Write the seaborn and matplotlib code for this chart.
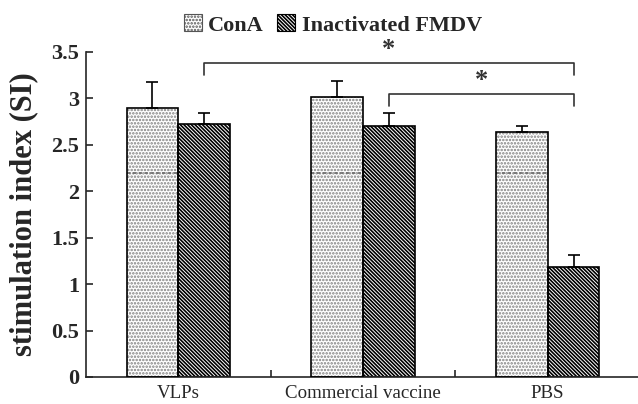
import matplotlib
matplotlib.use('Agg')
import matplotlib.pyplot as plt
import seaborn as sns
import pandas as pd
from matplotlib.patches import Patch
from matplotlib.ticker import FuncFormatter, FixedLocator

# Dữ liệu
groups = ['VLPs', 'Commercial vaccine', 'PBS']
treatments = ['ConA', 'Inactivated FMDV']
cona_mean = [2.89, 3.01, 2.63]
cona_err = [0.28, 0.17, 0.07]
fmdv_mean = [2.72, 2.70, 1.18]
fmdv_err = [0.12, 0.14, 0.13]
cona_dash = 2.19
# (nhóm trái, nhóm phải, độ cao ngang, nhãn)
brackets = [(0, 2, 3.38, '*'), (1, 2, 3.04, '*')]

DOTS = '.....'
STRIPES = '\\' * 9

sns.set_style('ticks')
plt.rcParams['font.family'] = ['Liberation Serif', 'DejaVu Serif']
plt.rcParams['hatch.linewidth'] = 1.2

df = pd.DataFrame({
    'group': groups * 2,
    'treatment': [treatments[0]] * 3 + [treatments[1]] * 3,
    'si': cona_mean + fmdv_mean,
})

fig = plt.figure(figsize=(6.38, 4.04), dpi=100)
ax = fig.add_axes([86 / 638, 1 - 377 / 404, 554 / 638, 325.5 / 404])

sns.barplot(data=df, x='group', y='si', hue='treatment', order=groups,
            hue_order=treatments, width=0.56, palette=['white', 'white'],
            edgecolor='black', linewidth=1.2, legend=False, ax=ax)

cona_bars = ax.containers[0]
fmdv_bars = ax.containers[1]

cona_x = []
for bar in cona_bars:
    bar.set_hatch(DOTS)
    bar.set_edgecolor('#808080')
    bar.set_linewidth(0)
    cona_x.append(bar.get_x() + bar.get_width() / 2)
    ax.plot([bar.get_x(), bar.get_x() + bar.get_width()], [cona_dash, cona_dash],
            color='#6a6a6a', linestyle=(0, (2, 1.5)), linewidth=1.2, zorder=3)
ax.bar(cona_x, cona_mean, width=cona_bars[0].get_width(), fill=False,
       edgecolor='black', linewidth=1.2, zorder=3)

fmdv_x = []
for bar in fmdv_bars:
    bar.set_hatch(STRIPES)
    fmdv_x.append(bar.get_x() + bar.get_width() / 2)

ax.errorbar(cona_x, cona_mean, yerr=[[0] * 3, cona_err], fmt='none',
            ecolor='black', elinewidth=1.2, capsize=4, capthick=1.2, zorder=4)
ax.errorbar(fmdv_x, fmdv_mean, yerr=[[0] * 3, fmdv_err], fmt='none',
            ecolor='black', elinewidth=1.2, capsize=4, capthick=1.2, zorder=4)

# Các dấu ngoặc so sánh có ý nghĩa
for a, b, y, label in brackets:
    xa, xb = fmdv_x[a], fmdv_x[b]
    ax.plot([xa, xa, xb, xb], [y - 0.13, y, y, y - 0.13],
            color='#333333', linewidth=1.2, clip_on=False)
    ax.text((xa + xb) / 2, y + 0.02, label, ha='center', va='bottom',
            fontsize=19, fontweight='bold', color='#333333')

ax.set_xlim(-0.5, 2.5)
ax.set_ylim(0, 3.5)
ax.set_yticks([0, 0.5, 1, 1.5, 2, 2.5, 3, 3.5])
ax.yaxis.set_major_formatter(FuncFormatter(lambda v, p: f'{v:g}'))
ax.tick_params(axis='y', direction='in', length=5, width=1.2,
               labelsize=16, pad=5)
for lbl in ax.get_yticklabels():
    lbl.set_fontweight('bold')
ax.tick_params(axis='x', which='major', length=0, labelsize=13.6, pad=6)
ax.xaxis.set_minor_locator(FixedLocator([0.5, 1.5]))
ax.tick_params(axis='x', which='minor', direction='in', length=5, width=1.2)

ax.set_xlabel('')
ax.set_ylabel('stimulation index (SI)', fontsize=22, fontweight='bold')
ax.yaxis.set_label_coords(-0.086, 0.5)
sns.despine(ax=ax)
for side in ['left', 'bottom']:
    ax.spines[side].set_linewidth(1.2)

handles = [
    Patch(facecolor='white', edgecolor='#555555', hatch=DOTS, linewidth=0.8),
    Patch(facecolor='white', edgecolor='black', hatch=STRIPES, linewidth=0.8),
]
fig.legend(handles, treatments, loc='center', bbox_to_anchor=(333 / 638, 1 - 25 / 404),
           ncol=2, frameon=False, prop={'weight': 'bold', 'size': 16},
           handlelength=0.8, handleheight=0.8, handletextpad=0.3, columnspacing=0.6)

fig.savefig('out.png', dpi=100)
